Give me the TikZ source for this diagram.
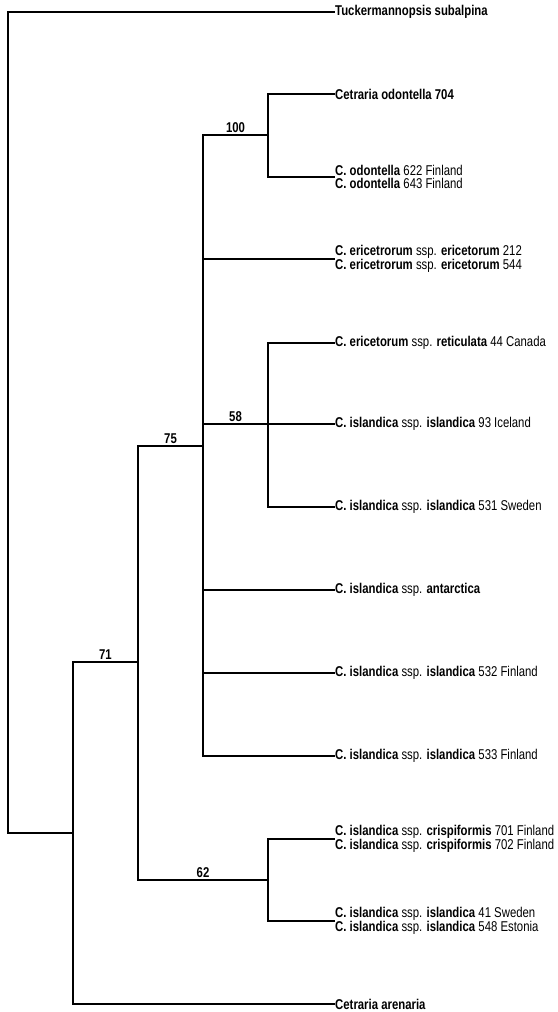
\documentclass[tikz,border=0pt]{standalone}
\usepackage{fontspec}
\setmainfont{Liberation Sans}[FakeStretch=0.8]
\usepackage{tikz}
\tikzset{taxon/.style={anchor=west, inner sep=1pt, align=left, font=\fontsize{14.2}{13.5}\selectfont},
branch/.style={line width=1.7pt, line cap=rect},
%bootstrap values sit above the middle of the branch
boot/.style={pos=0.25, above, inner sep=2pt, font=\fontsize{14.2}{13.5}\selectfont\bfseries}}

\begin{document}
\begin{tikzpicture}[x=1pt,y=-1pt]
\useasboundingbox (0,0) rectangle (557,1012);
%\draw [help lines] (0,0) grid[step=50] (557,1012);

% inner nodes of the tree
\coordinate (root) at (8,833);
\coordinate (n71) at (73,833);
\coordinate (n75) at (138,662);
\coordinate (poly) at (203,446);
\coordinate (n100) at (268,135);
\coordinate (n58) at (268,424);
\coordinate (n62) at (268,880);

% taxa
\node[taxon] (tuck) at (334,12) {\textbf{Tuckermannopsis subalpina}};
\node[taxon] (odo704) at (334,94) {\textbf{Cetraria odontella 704}};
\node[taxon] (odo622) at (334,177) {\textbf{C. odontella} 622 Finland\\\textbf{C. odontella} 643 Finland};
\node[taxon] (eri212) at (334,259) {\textbf{C. ericetrorum} ssp. \textbf{ericetorum} 212\\\textbf{C. ericetrorum} ssp. \textbf{ericetorum} 544};
\node[taxon] (ret44) at (334,343) {\textbf{C. ericetorum} ssp. \textbf{reticulata} 44 Canada};
\node[taxon] (isl93) at (334,424) {\textbf{C. islandica} ssp. \textbf{islandica} 93 Iceland};
\node[taxon] (isl531) at (334,507) {\textbf{C. islandica} ssp. \textbf{islandica} 531 Sweden};
\node[taxon] (ant) at (334,590) {\textbf{C. islandica} ssp. \textbf{antarctica}};
\node[taxon] (isl532) at (334,673) {\textbf{C. islandica} ssp. \textbf{islandica} 532 Finland};
\node[taxon] (isl533) at (334,756) {\textbf{C. islandica} ssp. \textbf{islandica} 533 Finland};
\node[taxon] (cri701) at (334,839) {\textbf{C. islandica} ssp. \textbf{crispiformis} 701 Finland\\\textbf{C. islandica} ssp. \textbf{crispiformis} 702 Finland};
\node[taxon] (isl41) at (334,921) {\textbf{C. islandica} ssp. \textbf{islandica} 41 Sweden\\\textbf{C. islandica} ssp. \textbf{islandica} 548 Estonia};
\node[taxon] (are) at (334,1004) {\textbf{Cetraria arenaria}};

% branches
\draw[branch] (tuck.west) -| (root) -- (n71);
\draw[branch] (are.west) -| (n71);
\draw[branch] (n75) -| (n71) node[boot]{71};
\draw[branch] (poly) -| (n75) node[boot]{75};
\draw[branch] (n62) -| (n75) node[boot]{62};
\draw[branch] (cri701.west) -| (n62);
\draw[branch] (isl41.west) -| (n62);
\draw[branch] (n100) -| (poly) node[boot]{100};
\draw[branch] (odo704.west) -| (n100);
\draw[branch] (odo622.west) -| (n100);
\draw[branch] (n58) -| (poly) node[boot]{58};
\draw[branch] (ret44.west) -| (n58);
\draw[branch] (isl93.west) -- (n58);
\draw[branch] (isl531.west) -| (n58);
\foreach \t in {eri212,ant,isl532,isl533}
     \draw[branch] (\t.west) -| (poly);

\end{tikzpicture}
\end{document}
